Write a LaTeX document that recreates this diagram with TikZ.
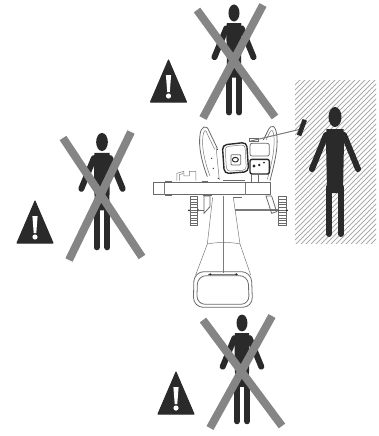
\documentclass[tikz,border=0pt]{standalone}
\definecolor{ink}{HTML}{2B2A2B}
\definecolor{crossgray}{HTML}{858586}
\definecolor{hatchgray}{HTML}{ABABAB}
\definecolor{mline}{HTML}{7A7A7A}
\tikzset{
  crossbar/.style={draw=crossgray,line width=8pt},
  mthin/.style={draw=mline,line width=.5pt},
  mmid/.style={draw=ink!70,line width=.8pt},
  mthick/.style={draw=ink,line width=1.4pt,line join=round},
  limb/.style={draw=ink,line cap=round,line join=round},
  personpic/.pic={
    \fill[ink] (0,0) ellipse (6.5 and 10);
    \fill[ink] (-8.5,12) -- (8.5,12) -- (9,24) -- (8,76) -- (-8,76) -- (-9,24) -- cycle;
    \draw[limb,line width=6pt] (-9,18) -- (-23,52);
    \draw[limb,line width=6pt] (9,18) -- (23,52);
    \draw[limb,line width=6pt] (-6,70) -- (-6,117);
    \draw[limb,line width=6pt] (6,70) -- (6,117);
  },
  warnpic/.pic={
    \fill[ink,draw=ink,line width=1pt,line join=round] (-18,0) -- (18,0) -- (0,-42) -- cycle;
    \fill[white] (-2.6,-27) -- (2.6,-27) -- (1.3,-10) -- (-1.3,-10) -- cycle;
    \fill[white] (0,-6) circle (2.6);
  }
}
\begin{document}
\begin{tikzpicture}[x=1pt,y=-1pt]
\useasboundingbox (0,0) rectangle (379,436);
% hatched zone
\begin{scope}
\clip (295,80) rectangle (376,243);
\foreach \k in {0,5,...,300}{
  \draw[hatchgray,line width=1pt] (100+\k,260) -- (100+\k+190,70);
}
\end{scope}
% safe operator
\path (335,117) pic {personpic};
% top
\path (234,13) pic[scale=.85] {personpic};
\draw[crossbar] (197,10) -- (275,117);
\draw[crossbar] (263,5) -- (203,118);
\path (168.5,102) pic {warnpic};
% left
\path (102,142) pic[scale=.9] {personpic};
\draw[crossbar] (63,138) -- (142,257);
\draw[crossbar] (131,132) -- (69,260);
\path (35,243) pic {warnpic};
% bottom
\path (242,323) pic[scale=.84] {personpic};
\draw[crossbar] (203,320) -- (282,426);
\draw[crossbar] (272,316) -- (210,428);
\path (176,414) pic {warnpic};
% machine
\begin{scope}[shift={(130,90)},x=.3333pt,y=-.3333pt]
 % handles
 \draw[mmid] (232,260) .. controls (215,215) and (205,170) .. (210,135) .. controls (212,110) and (230,100) .. (238,125) -- (262,175);
 \draw[mthin] (240,258) .. controls (224,215) and (214,170) .. (219,138) .. controls (222,118) and (228,118) .. (232,132) -- (254,178);
 \draw[mmid] (420,272) .. controls (432,225) and (444,180) .. (441,140) .. controls (438,105) and (424,100) .. (414,122) -- (400,150);
 \draw[mthin] (412,268) .. controls (424,225) and (435,180) .. (432,142) .. controls (430,120) and (425,115) .. (419,128) -- (408,150);
 % engine
 \draw[mthick,rounded corners=4.5pt] (277,165) -- (350,157) -- (356,245) -- (283,251) -- cycle;
 \draw[mthin,rounded corners=3.5pt] (285,170) -- (345,164) -- (349,240) -- (290,244) -- cycle;
 \draw[mmid,rounded corners=1pt] (303,194) rectangle (332,225);
 \draw[mthick,line width=1pt] (316,209) ellipse (9 and 7);
 \draw[mmid,rounded corners=2pt] (360,160) rectangle (418,198);
 \draw[mthick,rounded corners=2pt] (360,208) rectangle (418,252);
 \fill[ink] (372,228) circle (5) (388,225) circle (4) (402,218) circle (3);
 \draw[mmid] (358,145) rectangle (385,155);
 \draw[mmid] (365,252) -- (365,275) (385,252) -- (385,275);
 \draw[mthin] (258,170) -- (268,270);
 \fill[ink] (262,178) circle (2) (245,205) circle (2) (250,235) circle (2) (265,265) circle (2);
 % lever
 \draw[mline,line width=1pt] (362,153) -- (510,118);
 \fill[ink,rotate around={-20:(516,112)}] (509,88) rectangle (523,138);
 % tray
 \draw[mthin] (141,272) -- (141,250) -- (162,244) -- (162,258) -- (178,258) -- (178,244) -- (198,244) -- (198,272);
 \draw[mthin] (148,272) -- (148,254) -- (160,250);
 % beam
 \draw[mmid] (69,278) rectangle (420,314);
 \draw[mthin] (103,278) -- (103,314) (345,278) -- (345,314);
 \draw[mmid] (105,274) -- (125,274) (215,274) -- (235,274) (280,270) -- (345,270);
 \draw[mmid] (105,317) -- (125,317) (220,317) -- (245,317) (310,321) -- (335,321);
 % axle and wheels
 \draw[mthin] (315,358) -- (440,358) (315,362) -- (440,362);
 \foreach \wx/\ww in {180/22,446/22}{
   \draw[mmid] (\wx,320) rectangle (\wx+\ww,405);
   \foreach \yy in {328,336,...,400}{ \draw[mmid] (\wx,\yy) -- (\wx+\ww,\yy); }
 }
 \fill[ink] (177,361) circle (3) (205,361) circle (3) (443,361) circle (3) (471,361) circle (3);
 \draw[mmid] (205,361) -- (222,361) (422,361) -- (443,361);
 \draw[mmid] (222,318) -- (240,318) -- (240,350) -- (222,370) -- cycle;
 \draw[mmid] (408,318) -- (425,318) -- (440,365) -- (425,370) -- cycle;
 % boom
 \draw[mthin] (248,322) -- (232,462);
 \draw[mthin] (310,322) -- (330,462);
 \draw[mthin] (280,318) -- (280,550);
 \draw[mthin] (232,462) .. controls (260,456) and (305,456) .. (330,462);
 % bucket
 \draw[mthin] (232,462) -- (197,555);
 \draw[mthin] (330,462) -- (362,555);
 \draw[mmid,rounded corners=10pt] (192,545) -- (364,545) -- (368,652) -- (190,652) -- cycle;
 \draw[mmid,rounded corners=8.5pt] (203,557) -- (354,557) -- (358,643) -- (200,643) -- cycle;
 \draw[mthin] (235,552) -- (325,552);
 \fill[ink] (241,553) circle (3.5) (319,553) circle (3.5);
\end{scope}
\end{tikzpicture}
\end{document}
